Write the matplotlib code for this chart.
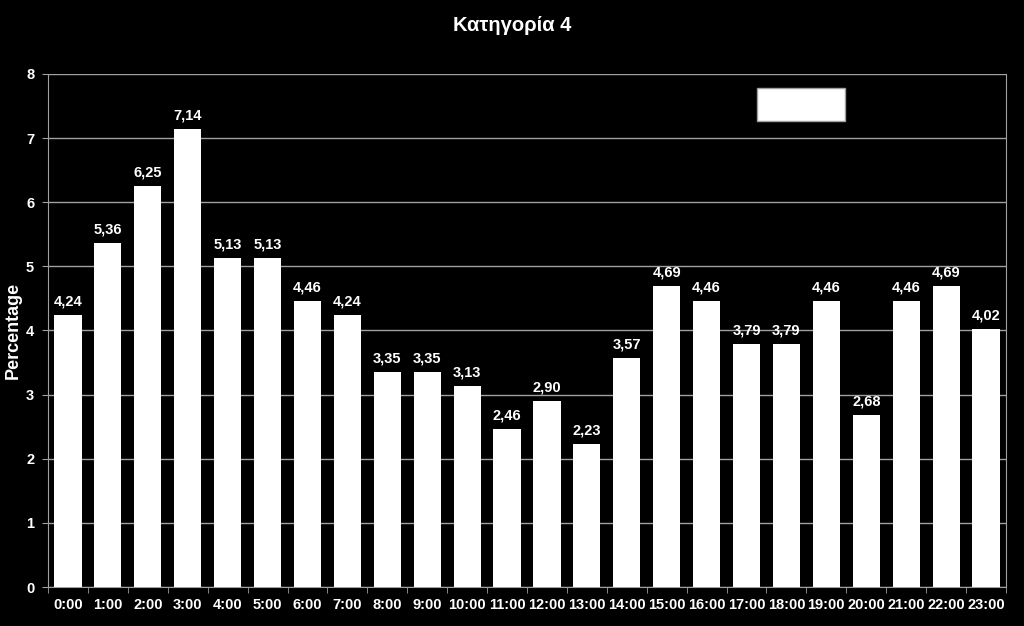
import matplotlib
matplotlib.use("Agg")
import matplotlib.pyplot as plt
from matplotlib.patches import Rectangle
import numpy as np

plt.rcParams['font.family'] = ['Liberation Sans', 'DejaVu Sans']
plt.rcParams['font.weight'] = 'bold'

# data
hours = ["%d:00" % h for h in range(24)]
values = [4.24, 5.36, 6.25, 7.14, 5.13, 5.13, 4.46, 4.24, 3.35, 3.35, 3.13, 2.46,
          2.90, 2.23, 3.57, 4.69, 4.46, 3.79, 3.79, 4.46, 2.68, 4.46, 4.69, 4.02]
yticks = [0, 1, 2, 3, 4, 5, 6, 7, 8]

fig = plt.figure(figsize=(10.24, 6.26), dpi=100, facecolor="black")
ax = fig.add_axes([0.0469, 0.0623, 0.9355, 0.8195], facecolor="black")

x = np.arange(len(values))
ax.bar(x, values, width=0.68, color="white", zorder=3)

for xi, v in zip(x, values):
    ax.text(xi, v + 0.1, ("%.2f" % v).replace(".", ","), ha="center", va="bottom",
            color="white", fontsize=10.5, fontweight="bold")

ax.set_xlim(-0.5, 23.5)
ax.set_ylim(0, 8)
ax.set_yticks(yticks)
ax.set_xticks(x)
ax.set_xticklabels(hours)
ax.set_xticks(np.arange(-0.5, 24, 1), minor=True)
ax.tick_params(axis="x", which="major", length=0, colors="white", labelsize=10.5, pad=8)
ax.tick_params(axis="x", which="minor", length=4, color="#a0a0a0")
ax.tick_params(axis="y", length=4, color="#a0a0a0", labelcolor="white", labelsize=10.5, pad=6)
ax.grid(axis="y", color="#a0a0a0", linewidth=1, zorder=0)

for side in ["left", "right", "bottom"]:
    ax.spines[side].set_color("#a0a0a0")
ax.spines["top"].set_visible(False)

ax.set_ylabel("Percentage", color="white", fontsize=13, fontweight="bold", labelpad=3)
fig.suptitle("Κατηγορία 4", color="white", fontsize=14.5, fontweight="bold", y=0.975)

# empty legend box
ax.add_patch(Rectangle((0.740, 0.908), 0.092, 0.065, transform=ax.transAxes,
                       facecolor="white", edgecolor="#a0a0a0", zorder=5))

fig.savefig("out.png", dpi=100, facecolor="black")
